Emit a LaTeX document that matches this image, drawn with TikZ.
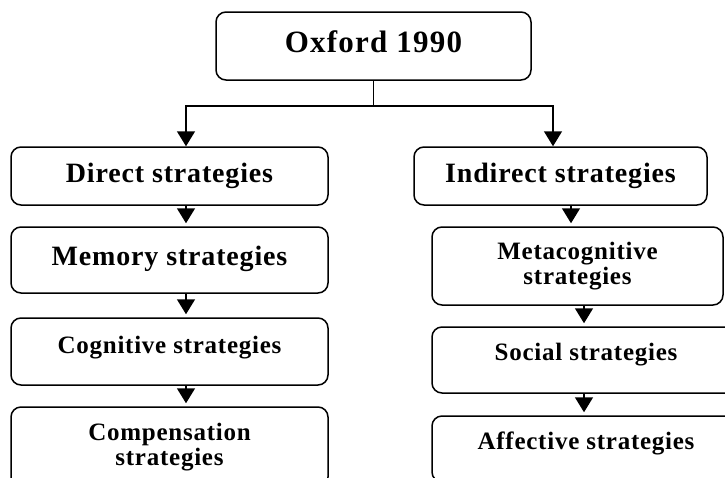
\documentclass[tikz,border=0pt]{standalone}
\usepackage{fontspec}
\setmainfont{Liberation Serif}
\usepackage{tikz}
\usetikzlibrary{arrows.meta}
\newcommand{\titlefont}{\fontsize{31}{34}\selectfont\bfseries\addfontfeature{LetterSpace=4}}
\newcommand{\bigfont}{\fontsize{28}{30}\selectfont\bfseries\addfontfeature{LetterSpace=3}}
\newcommand{\smallfont}{\fontsize{25}{25}\selectfont\bfseries\addfontfeature{LetterSpace=3}}
\tikzset{
	box/.style={draw, line width=1.5pt, rounded corners=10pt, inner sep=0pt, align=center},
	arrowline/.style={-{Triangle[width=18pt,length=15pt]}, line width=1.5pt},
}

\begin{document}
\begin{tikzpicture}[x=1pt,y=-1pt]
		\useasboundingbox (0,0) rectangle (725,477);
		\clip (0,0) rectangle (725,477);
		\coordinate (jl) at (186,106);
		\coordinate (jr) at (553,106);
		\coordinate (ra) at (571,0);
		\coordinate (rb) at (584,0);
		\node[box, font=\titlefont, minimum width=315pt, minimum height=68pt, text height=21pt, text depth=9pt] (oxford) at (373.5,46) {Oxford 1990};
		% left column
		\node[box, font=\bigfont, minimum width=317pt, minimum height=58pt, text height=20pt, text depth=7pt] (direct) at (169.5,176) {Direct strategies};
		\node[box, font=\bigfont, minimum width=317pt, minimum height=66pt, text height=20pt, text depth=10pt] (memory) at (169.5,260) {Memory strategies};
		\node[box, font=\smallfont, minimum width=317pt, minimum height=67pt, text height=18pt, text depth=15pt] (cognitive) at (169.5,351.5) {Cognitive strategies};
		\node[box, font=\smallfont, minimum width=317pt, minimum height=80pt] (compensation) at (169.5,447) {Compensation\\strategies};
		% right column
		\node[box, font=\bigfont, minimum width=293pt, minimum height=58pt, text height=20pt, text depth=7pt] (indirect) at (560.5,176) {Indirect strategies};
		\node[box, font=\smallfont, minimum width=291pt, minimum height=78pt] (meta) at (577.5,266) {Metacognitive\\strategies};
		\node[box, font=\smallfont, minimum width=308pt, minimum height=66pt, text height=18pt, text depth=18pt] (social) at (586,360) {Social strategies};
		\node[box, font=\smallfont, minimum width=308pt, minimum height=66pt, text height=18pt, text depth=18pt] (affective) at (586,449) {Affective strategies};
		% connectors
		\draw[arrowline] (oxford.south) -- (oxford.south |- jl) -- (jl) -- (jl |- direct.north);
		\draw[arrowline] (oxford.south |- jl) -- (jr) -- (jr |- indirect.north);
		\draw[arrowline, shorten >=3pt] (direct.south -| jl) -- (memory.north -| jl);
		\draw[arrowline, shorten >=3pt] (memory.south -| jl) -- (cognitive.north -| jl);
		\draw[arrowline, shorten >=3pt] (cognitive.south -| jl) -- (compensation.north -| jl);
		\draw[arrowline, shorten >=3pt] (indirect.south -| ra) -- (meta.north -| ra);
		\draw[arrowline, shorten >=3pt] (meta.south -| rb) -- (social.north -| rb);
		\draw[arrowline, shorten >=3pt] (social.south -| rb) -- (affective.north -| rb);
\end{tikzpicture}
\end{document}
